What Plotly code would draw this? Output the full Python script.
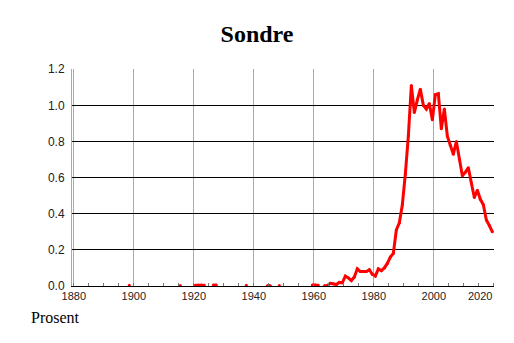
import plotly.graph_objects as go

# Data: share (percent) of newborns named "Sondre", by year (years with no data omitted)
years = [1898, 1915, 1920, 1921, 1922, 1923, 1926, 1927, 1937, 1944, 1945, 1948,
         1959, 1960, 1961,
         1963, 1964, 1965, 1966, 1967, 1968, 1969, 1970, 1971, 1972, 1973, 1974,
         1975, 1976, 1977, 1978, 1979, 1980, 1981, 1982, 1983, 1984, 1985, 1986,
         1987, 1988, 1989, 1990, 1991, 1992, 1993, 1994, 1995, 1996, 1997, 1998,
         1999, 2000, 2001, 2002, 2003, 2004, 2005, 2006, 2007, 2008, 2009, 2010,
         2011, 2012, 2013, 2014, 2015, 2016, 2017, 2018, 2019]
values = [0.004, 0.003, 0.004, 0.005, 0.005, 0.004, 0.005, 0.005, 0.004, 0.002, 0.002, 0.003,
          0.005, 0.005, 0.004,
          0.002, 0.003, 0.015, 0.012, 0.008, 0.020, 0.018, 0.055, 0.045, 0.030, 0.050, 0.095,
          0.080, 0.080, 0.080, 0.090, 0.065, 0.055, 0.095, 0.085, 0.100, 0.125, 0.160, 0.180,
          0.310, 0.350, 0.450, 0.620, 0.830, 1.110, 0.960, 1.030, 1.090, 1.000, 0.980, 1.010,
          0.920, 1.060, 1.065, 0.870, 0.980, 0.830, 0.780, 0.730, 0.800, 0.700, 0.610, 0.630,
          0.655, 0.570, 0.490, 0.530, 0.480, 0.450, 0.365, 0.335, 0.300]

x_ticks = [1880, 1900, 1920, 1940, 1960, 1980, 2000, 2020]
y_ticks = [0.0, 0.2, 0.4, 0.6, 0.8, 1.0, 1.2]

# Insert gaps where years are not consecutive; points are centred in their year
xs, ys = [], []
for i, (yr, v) in enumerate(zip(years, values)):
    if i > 0 and yr - years[i - 1] > 1:
        xs.append(None)
        ys.append(None)
    xs.append(yr + 0.5)
    ys.append(v)

# last tick label is drawn right-aligned at the edge (as in the original)
tick_text = [str(t) for t in x_ticks[:-1]] + [""]

fig = go.Figure()
fig.add_trace(go.Scatter(
    x=xs, y=ys, mode="lines+markers",
    line=dict(color="#ff0000", width=3),
    marker=dict(color="#ff0000", size=3),
    connectgaps=False, hoverinfo="skip", showlegend=False,
))

fig.update_layout(
    width=514, height=343,
    margin=dict(l=72, r=20, t=69, b=57, autoexpand=False),
    paper_bgcolor="white", plot_bgcolor="white",
    title=dict(text="<b>Sondre</b>", x=0.5, xanchor="center",
               y=1 - 34 / 343, yanchor="middle",
               font=dict(family="Liberation Serif", size=24, color="black")),
    font=dict(family="Liberation Sans", size=11, color="#222"),
    xaxis=dict(
        range=[1879.4, 2020.05], tickmode="array", tickvals=x_ticks,
        ticktext=tick_text, automargin=False,
        showgrid=True, gridcolor="#aaaaaa", gridwidth=1,
        showline=True, linecolor="black", linewidth=1,
        ticks="", zeroline=False,
        tickfont=dict(family="Liberation Sans", size=11, color="#222"),
        minor=dict(dtick=5, tick0=1880, ticks="inside", ticklen=3,
                   tickcolor="#777", showgrid=False),
    ),
    yaxis=dict(
        range=[0, 1.2015], tickmode="array", tickvals=y_ticks,
        ticktext=[f"{t:.1f}" for t in y_ticks], automargin=False,
        showgrid=True, gridcolor="black", gridwidth=1,
        showline=True, linecolor="#aaaaaa", linewidth=1,
        ticks="", zeroline=False, ticklabelstandoff=4,
        tickfont=dict(family="Liberation Sans", size=12, color="#222"),
    ),
    annotations=[
        dict(text="Prosent", xref="paper", yref="paper",
             x=-43 / 422, y=(286 - 317) / 217, xanchor="left", yanchor="middle",
             showarrow=False,
             font=dict(family="Liberation Serif", size=16, color="black")),
        dict(text=str(x_ticks[-1]), xref="x", yref="paper",
             x=x_ticks[-1], y=0, xanchor="right", yanchor="top", yshift=-2,
             showarrow=False,
             font=dict(family="Liberation Sans", size=11, color="#222")),
    ],
)

fig.write_html("out.html")
